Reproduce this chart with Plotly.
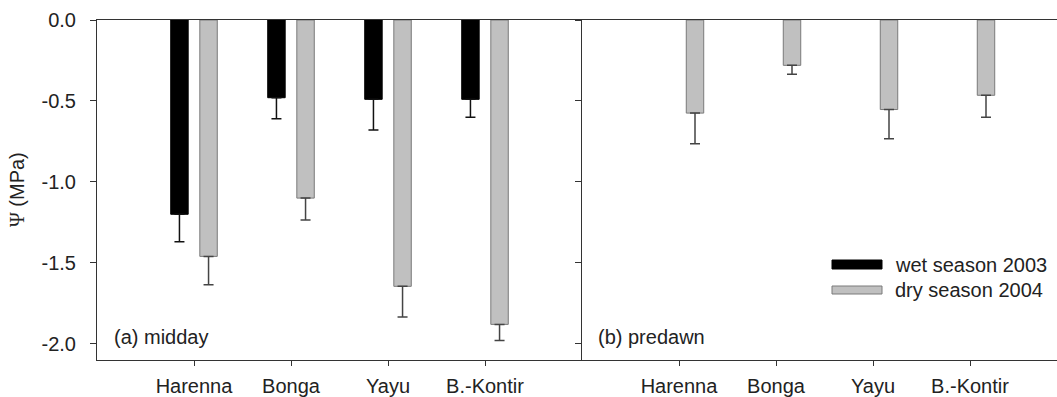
import plotly.graph_objects as go

sites = ["Harenna", "Bonga", "Yayu", "B.-Kontir"]
site_pos = [1, 2, 3, 4]

midday_wet = [-1.20, -0.48, -0.49, -0.49]
midday_wet_err = [0.17, 0.13, 0.19, 0.11]
midday_dry = [-1.46, -1.10, -1.645, -1.88]
midday_dry_err = [0.175, 0.135, 0.19, 0.10]

predawn_dry = [-0.575, -0.28, -0.553, -0.465]
predawn_dry_err = [0.19, 0.055, 0.18, 0.135]

y_ticks = [0.0, -0.5, -1.0, -1.5, -2.0]
y_tick_labels = ["0.0", "-0.5", "-1.0", "-1.5", "-2.0"]

FONT = "Liberation Sans, Arial, sans-serif"
FS = 20
WET = "#000000"
DRY = "#c0c0c0"
DRY_EDGE = "#7a7a7a"
AX = "#333333"

fig = go.Figure()

fig.add_trace(go.Bar(
    x=site_pos, y=midday_wet, xaxis="x", yaxis="y",
    offset=-0.24, width=0.18,
    marker=dict(color=WET, line=dict(color=WET, width=1)),
    error_y=dict(type="data", symmetric=False, array=[0] * 4, arrayminus=midday_wet_err,
                 color="#111111", thickness=1.5, width=5),
    name="wet season 2003", showlegend=False,
))
fig.add_trace(go.Bar(
    x=site_pos, y=midday_dry, xaxis="x", yaxis="y",
    offset=0.06, width=0.18,
    marker=dict(color=DRY, line=dict(color=DRY_EDGE, width=1)),
    error_y=dict(type="data", symmetric=False, array=[0] * 4, arrayminus=midday_dry_err,
                 color="#444444", thickness=1.5, width=5),
    name="dry season 2004", showlegend=False,
))
fig.add_trace(go.Bar(
    x=site_pos, y=predawn_dry, xaxis="x2", yaxis="y2",
    offset=0.075, width=0.18,
    marker=dict(color=DRY, line=dict(color=DRY_EDGE, width=1)),
    error_y=dict(type="data", symmetric=False, array=[0] * 4, arrayminus=predawn_dry_err,
                 color="#444444", thickness=1.5, width=5),
    name="dry season 2004", showlegend=False,
))

W, H = 1057, 397
L, R, T, B = 97, 0, 20, 37
pw = W - L - R
split = 485 / pw

xcommon = dict(
    tickvals=site_pos, ticktext=sites, ticks="outside", ticklen=5, tickcolor=AX,
    showline=True, linecolor=AX, linewidth=1, mirror=True, showgrid=False, zeroline=False,
    tickfont=dict(family=FONT, size=FS, color="#222222"), fixedrange=True,
    ticklabelstandoff=3,
)
ycommon = dict(
    range=[-2.1, 0], tickvals=y_ticks, ticktext=y_tick_labels, ticks="outside", ticklen=6,
    tickcolor=AX, showline=True, linecolor=AX, linewidth=1, showgrid=False, zeroline=False,
    tickfont=dict(family=FONT, size=FS, color="#222222"),
)

fig.update_layout(
    width=W, height=H,
    margin=dict(l=L, r=R, t=T, b=B, pad=0),
    paper_bgcolor="white", plot_bgcolor="white",
    barmode="overlay",
    showlegend=False,
    xaxis=dict(domain=[0, split], range=[0, 5], anchor="y", **xcommon),
    xaxis2=dict(domain=[split, 1], range=[0, (pw - 485) / 97], anchor="y2", **xcommon),
    yaxis=dict(domain=[0, 1], anchor="x", ticklabelstandoff=10, **ycommon),
    yaxis2=dict(domain=[0, 1], anchor="x2", showticklabels=False, **ycommon),
)

ph = H - T - B
def px_x(v):
    return (v - L) / pw
def px_y(v):
    return (H - B - v) / ph

# panel labels
fig.add_annotation(text="(a) midday", xref="paper", yref="paper",
                   x=px_x(112), y=px_y(337),
                   xanchor="left", yanchor="middle", showarrow=False,
                   font=dict(family=FONT, size=FS, color="#222222"))
fig.add_annotation(text="(b) predawn", xref="paper", yref="paper",
                   x=px_x(596), y=px_y(337),
                   xanchor="left", yanchor="middle", showarrow=False,
                   font=dict(family=FONT, size=FS, color="#222222"))

# y-axis title
fig.add_annotation(text='<span style="font-family:Liberation Serif, Times New Roman, serif">Ψ</span> (MPa)',
                   xref="paper", yref="paper",
                   x=px_x(17), y=0.5, textangle=-90,
                   xanchor="center", yanchor="middle", showarrow=False,
                   font=dict(family=FONT, size=FS, color="#222222"))

# legend drawn manually
legend_items = [("wet season 2003", WET, WET, 260, 269), ("dry season 2004", DRY, DRY_EDGE, 286, 294)]
for label, fill, edge, y0, y1 in legend_items:
    fig.add_shape(type="rect", xref="paper", yref="paper",
                  x0=px_x(832), x1=px_x(882), y0=px_y(y1), y1=px_y(y0),
                  fillcolor=fill, line=dict(color=edge, width=1))
    fig.add_annotation(text=label, xref="paper", yref="paper",
                       x=px_x(893), y=px_y((y0 + y1) / 2),
                       xanchor="left", yanchor="middle", showarrow=False,
                       font=dict(family=FONT, size=FS, color="#222222"))

fig.write_html("out.html")
